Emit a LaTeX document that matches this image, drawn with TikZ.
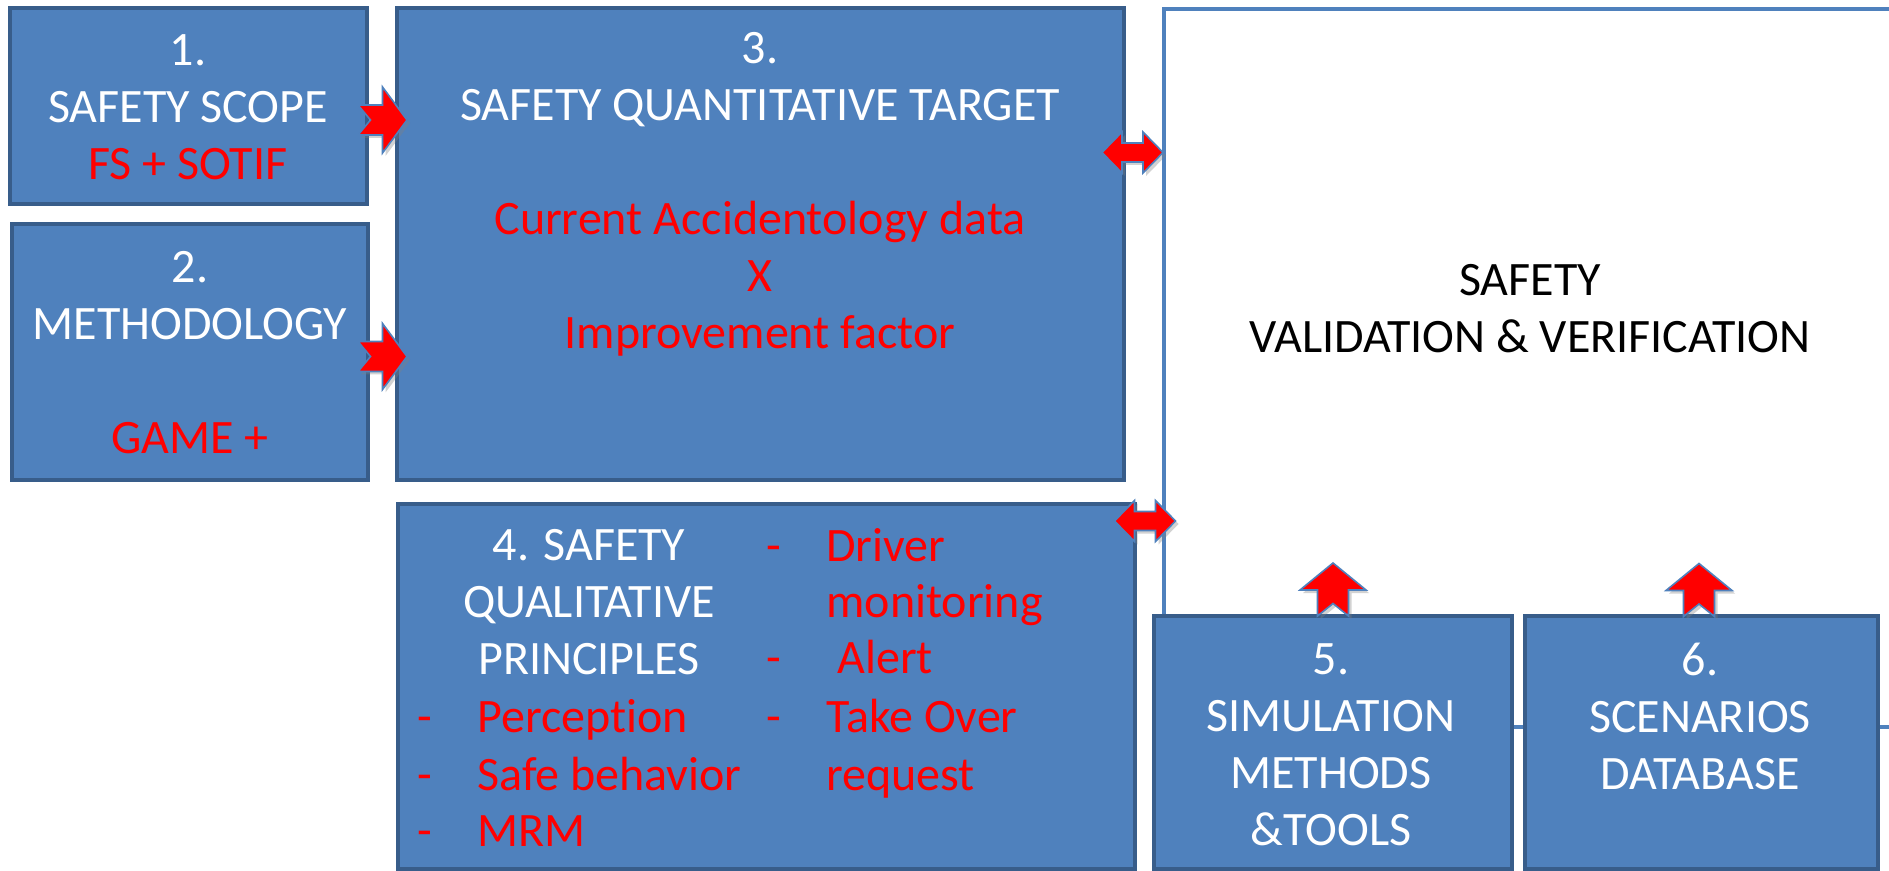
\documentclass[tikz,border=0pt]{standalone}
\usepackage{fontspec}
\setmainfont[Ligatures=NoCommon]{Carlito}
\usetikzlibrary{shadows}

\definecolor{boxfill}{HTML}{4F81BD}
\definecolor{boxline}{HTML}{385D8A}
\tikzset{
  box/.style={draw=boxline, line width=2pt, fill=boxfill, inner sep=0pt},
  txt/.style={align=center, text=white, font=\fontsize{24}{28.5}\selectfont, inner sep=0pt},
  redtxt/.style={txt, text=red},
  blockarrow/.style={fill=red, draw=boxfill, line width=0.8pt,
    drop shadow={shadow xshift=1.5pt, shadow yshift=-1.5pt, opacity=0.35}},
  rarrow/.pic={\path[blockarrow] (-24.5,-15) -- (0,-15) -- (0,-33) -- (24.5,0) -- (0,33) -- (0,15) -- (-24.5,15) -- (-12,0) -- cycle;},
  uarrow/.pic={\path[blockarrow] (0,-26.5) -- (33,0.5) -- (15.5,0.5) -- (15.5,26.5) -- (0,14) -- (-15.5,26.5) -- (-15.5,0.5) -- (-33,0.5) -- cycle;},
  darrow/.pic={\path[blockarrow] (-30.5,0) -- (-10.5,-20.5) -- (-10.5,-9.5) -- (10.5,-9.5) -- (10.5,-20.5) -- (30.5,0) -- (10.5,20.5) -- (10.5,9.5) -- (-10.5,9.5) -- (-10.5,20.5) -- cycle;}
}

\begin{document}
\begin{tikzpicture}[x=0.5pt,y=-0.5pt]
\useasboundingbox (0,0) rectangle (1889,871);
\fill[white] (0,0) rectangle (1889,871);
\clip (0,0) rectangle (1889,871);

% big V&V frame
\node[draw=boxfill, line width=2.25pt, minimum width=368pt, minimum height=358.75pt] (vv) at (1532,368) {};
\node[txt, text=black] (tvv) at (1530,309) {SAFETY\\VALIDATION \& VERIFICATION};

% boxes
\node[box, minimum width=178.5pt, minimum height=98pt] (s1) at (188.5,106) {};
\node[box, minimum width=178pt, minimum height=128pt] (s2) at (190,352) {};
\node[box, minimum width=363.5pt, minimum height=236pt] (s3) at (760.5,244) {};
\node[box, minimum width=368.5pt, minimum height=182.5pt] (s4) at (766.5,686.5) {};
\node[box, minimum width=179pt, minimum height=126.5pt] (s5) at (1333,742.5) {};
\node[box, minimum width=176.5pt, minimum height=126.5pt] (s6) at (1701.5,742.5) {};

% texts
\node[txt] (t1) at (188,107) {1.\\SAFETY SCOPE\\\textcolor{red}{FS + SOTIF}};
\node[txt] (t2) at (190,353) {2.\\METHODOLOGY\\[28.5pt]\textcolor{red}{GAME +}};
\node[txt] (t3) at (760,194) {3.\\SAFETY QUANTITATIVE TARGET\\[28.5pt]\textcolor{red}{Current Accidentology data}\\\textcolor{red}{X}\\\textcolor{red}{Improvement factor}};
\node[txt] (t4) at (589,602) {4. SAFETY\\QUALITATIVE\\PRINCIPLES};
\node[txt] (t5) at (1331,745) {5.\\SIMULATION\\METHODS\\\&TOOLS};
\node[txt] (t6) at (1700,716) {6.\\SCENARIOS\\DATABASE};

% lists in box 4
\foreach \y/\t [count=\n] in {732/Perception, 790/Safe behavior, 846/MRM} {
  \node[redtxt, anchor=base west] (ld\n) at (417,\y) {-};
  \node[redtxt, anchor=base west] (li\n) at (477,\y) {\t};
}
\foreach \y/\t [count=\n] in {561/Driver, 673/Alert, 732/Take Over} {
  \node[redtxt, anchor=base west] (rd\n) at (766,\y) {-};
}
\node[redtxt, anchor=base west] (ri1) at (826,561) {Driver};
\node[redtxt, anchor=base west] (ri2) at (826,617) {monitoring};
\node[redtxt, anchor=base west] (ri3) at (837,673) {Alert};
\node[redtxt, anchor=base west] (ri4) at (826,732) {Take Over};
\node[redtxt, anchor=base west] (ri5) at (826,790) {request};

% block arrows
\pic (a1) at (382.5,120) {rarrow};
\pic (a2) at (382.5,356.5) {rarrow};
\pic (a3) at (1132.5,152.5) {darrow};
\pic (a4) at (1145,521) {darrow};
\pic (a5) at (1333,589.5) {uarrow};
\pic (a6) at (1699,590) {uarrow};
\end{tikzpicture}
\end{document}
